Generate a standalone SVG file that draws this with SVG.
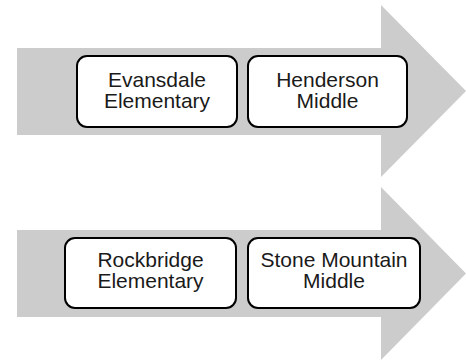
<svg xmlns="http://www.w3.org/2000/svg" width="466" height="360" viewBox="0 0 466 360">
<style>
.arrow{fill:#cccccc;stroke:none}
.box{fill:#ffffff;stroke:#000000;stroke-width:2}
.lbl{font-family:"Liberation Sans",Arial,sans-serif;font-size:21px;fill:#1a1a1a;text-anchor:middle}
</style>
<rect width="466" height="360" fill="#ffffff"/>
<g id="connectors">
<polygon class="arrow" points="17,48 381,48 381,5 466,91 381,177 381,135 17,135"/>
<polygon class="arrow" points="17,230 381,230 381,187 466,273.5 381,360 381,317 17,317"/>
</g>
<g id="evansdale">
<rect class="box" x="77" y="56" width="160" height="71" rx="10"/>
<text class="lbl" x="157" y="87">Evansdale</text>
<text class="lbl" x="157" y="108">Elementary</text>
</g>
<g id="henderson">
<rect class="box" x="248" y="56" width="159" height="71" rx="10"/>
<text class="lbl" x="327.5" y="87">Henderson</text>
<text class="lbl" x="327.5" y="108">Middle</text>
</g>
<g id="rockbridge">
<rect class="box" x="65" y="238" width="171" height="70" rx="10"/>
<text class="lbl" x="150.5" y="267">Rockbridge</text>
<text class="lbl" x="150.5" y="288">Elementary</text>
</g>
<g id="stonemountain">
<rect class="box" x="248" y="238" width="172" height="70" rx="10"/>
<text class="lbl" x="334" y="267">Stone Mountain</text>
<text class="lbl" x="334" y="288">Middle</text>
</g>
</svg>
